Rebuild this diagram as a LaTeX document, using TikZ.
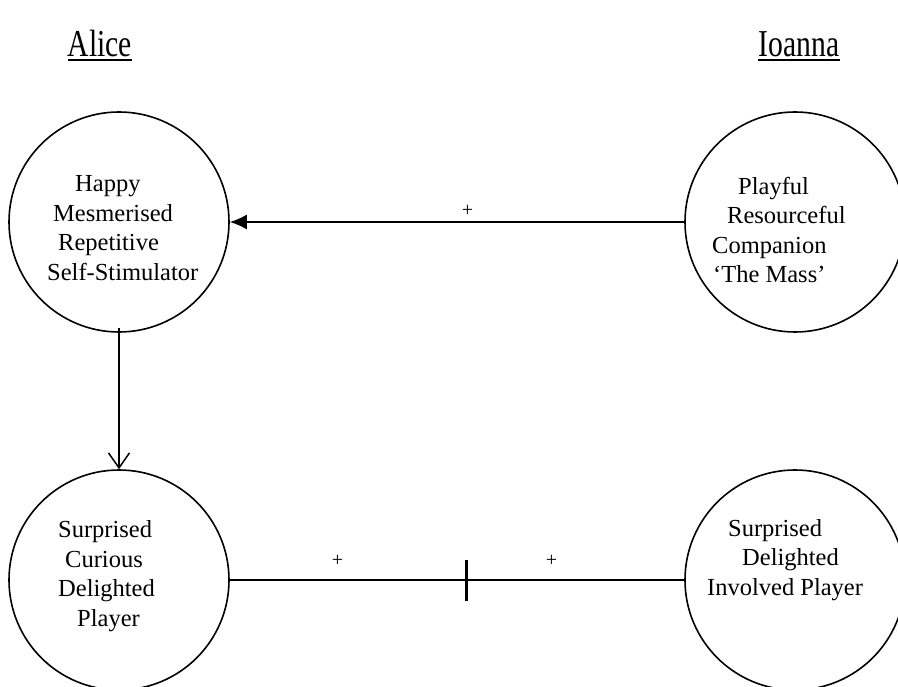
\documentclass[tikz,border=0pt]{standalone}
\usepackage{graphicx}
\usepackage{fontspec}
\setmainfont{Liberation Serif}
\usetikzlibrary{arrows.meta,calc}

\tikzset{
  state/.style={circle, draw, line width=1.6pt, minimum size=220pt, inner sep=0pt},
  statetext/.style={inner sep=0pt, align=left, anchor=west,
    font=\fontsize{24.5}{29.5}\selectfont},
  person/.style={inner sep=0pt, anchor=base,
    font=\fontsize{38}{42}\selectfont},
  link/.style={line width=1.5pt},
  sign/.style={inner sep=0pt, font=\fontsize{20}{22}\selectfont},
}

\begin{document}
\begin{tikzpicture}[x=1pt, y=-1pt]
  \useasboundingbox (0,0) rectangle (898,687);
  \clip (0,0) rectangle (898,687);

  % column headings
  \node[person] (alice) at (100,57) {\scalebox{0.78}[1]{Alice}};
  \node[person] (ioanna) at (799,57) {\scalebox{0.78}[1]{Ioanna}};
  \draw[line width=1.8pt] ([yshift=-3pt]alice.base west) -- ([yshift=-3pt]alice.base east);
  \draw[line width=1.8pt] ([yshift=-3pt]ioanna.base west) -- ([yshift=-3pt]ioanna.base east);

  % states
  \node[state] (tl) at (119,222) {};
  \node[state] (tr) at (795,222) {};
  \node[state] (bl) at (119,580) {};
  \node[state] (br) at (795,580) {};

  \node[statetext] (tlT) at (47,228)
    {\hspace*{28pt}Happy\\\hspace*{6pt}Mesmerised\\\hspace*{11pt}Repetitive\\Self-Stimulator};
  \node[statetext] (trT) at (712,230)
    {\hspace*{26pt}Playful\\\hspace*{15pt}Resourceful\\Companion\\\hspace*{1pt}`The Mass'};
  \node[statetext] (blT) at (58,576)
    {Surprised\\\hspace*{7pt}Curious\\Delighted\\\hspace*{19pt}Player};
  \node[statetext] (brT) at (707,560)
    {\hspace*{21pt}Surprised\\\hspace*{35pt}Delighted\\Involved Player};

  % connectors
  \draw[link, -{Latex[length=17pt, width=15pt]}] (tr.west) -- (tl.east)
    node[sign, pos=0.477, above=5pt] (s1) {+};
  \draw[link, -{Straight Barb[length=15pt, width=21pt, line width=1.5pt]}]
    ([yshift=5pt]tl.south) -- (bl.north);
  \draw[link] (bl.east) -- (br.west)
    node[sign, pos=0.237, above=13pt] (s2) {+}
    node[sign, pos=0.708, above=13pt] (s3) {+};
  \coordinate (mid) at ($(bl.east)!0.521!(br.west)$);
  \draw[line width=2.5pt] ([yshift=20pt]mid) -- ([yshift=-21pt]mid);
\end{tikzpicture}
\end{document}
